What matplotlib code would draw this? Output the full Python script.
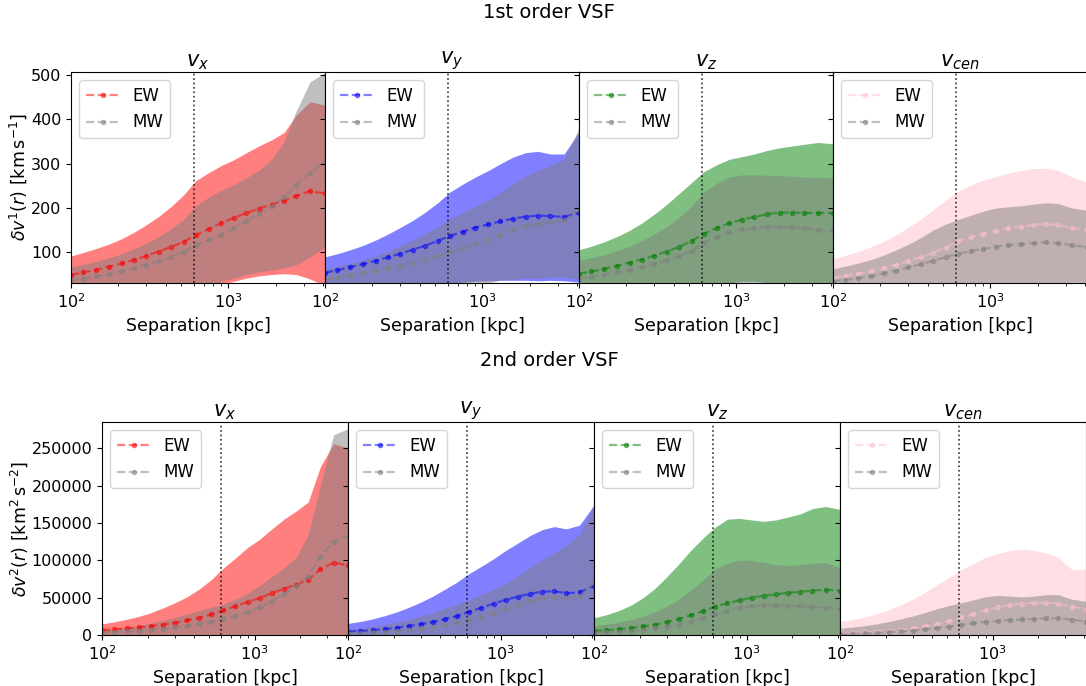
import matplotlib
matplotlib.use("Agg")
import matplotlib.pyplot as plt

# separation bins [kpc]
sep = [100, 120, 145, 175, 210, 250, 300, 360, 430, 520, 620, 750, 900,
       1080, 1300, 1560, 1880, 2250, 2700, 3300, 4100]

components = [r'$v_x$', r'$v_y$', r'$v_z$', r'$v_{cen}$']
ew_colors = ['red', 'blue', 'green', 'pink']
r_cut = 600

# ---- 1st order VSF (vx, vy, vz, vcen) ----
ew_mean1 = [
    [49, 55, 61, 68, 75, 83, 92, 102, 112, 124, 139, 153, 166, 178, 189, 199, 208, 217, 228, 238, 233],
    [54, 60, 67, 74, 81, 89, 97, 106, 115, 126, 137, 147, 156, 163, 170, 176, 181, 183, 182, 180, 190],
    [52, 57, 63, 70, 77, 84, 93, 102, 112, 126, 142, 155, 166, 174, 180, 186, 190, 190, 189, 189, 189],
    [43, 47, 52, 58, 65, 72, 80, 89, 99, 111, 125, 134, 142, 148, 154, 158, 162, 164, 162, 155, 151],
]
ew_hi1 = [
    [92, 100, 109, 119, 131, 145, 162, 181, 203, 230, 262, 280, 296, 309, 325, 340, 354, 370, 410, 440, 432],
    [90, 97, 106, 116, 128, 141, 156, 172, 190, 212, 236, 254, 270, 284, 300, 315, 325, 328, 322, 322, 372],
    [106, 114, 124, 136, 150, 166, 186, 208, 232, 258, 282, 298, 310, 316, 322, 330, 336, 340, 344, 348, 345],
    [86, 93, 102, 113, 125, 139, 156, 175, 196, 218, 238, 252, 263, 271, 279, 285, 289, 290, 285, 270, 258],
]
ew_lo1 = [
    [10, 11, 12, 13, 14, 15, 16, 17, 18, 20, 22, 25, 28, 35, 42, 47, 50, 52, 50, 40, 25],
    [10, 12, 14, 16, 18, 20, 22, 24, 26, 28, 31, 33, 35, 36, 37, 37, 37, 36, 37, 36, 33],
    [5, 6, 7, 8, 9, 10, 11, 12, 14, 17, 20, 25, 31, 35, 35, 32, 28, 25, 22, 20, 18],
    [5, 6, 7, 8, 9, 10, 11, 12, 13, 14, 15, 16, 17, 18, 19, 20, 22, 26, 30, 34, 36],
]
mw_mean1 = [
    [37, 41, 46, 52, 58, 64, 72, 80, 89, 101, 116, 128, 140, 155, 170, 186, 205, 224, 252, 280, 306],
    [39, 43, 48, 53, 58, 64, 70, 77, 84, 92, 100, 110, 120, 129, 140, 151, 160, 165, 168, 172, 196],
    [41, 45, 50, 55, 61, 67, 74, 82, 91, 103, 122, 135, 146, 152, 155, 157, 158, 157, 154, 151, 148],
    [35, 38, 42, 47, 53, 59, 66, 73, 81, 89, 97, 103, 108, 113, 116, 119, 121, 123, 121, 116, 112],
]
mw_hi1 = [
    [67, 73, 80, 88, 97, 108, 121, 136, 153, 175, 205, 225, 240, 253, 268, 285, 310, 350, 420, 485, 505],
    [62, 68, 75, 83, 92, 102, 114, 127, 142, 158, 175, 190, 204, 218, 235, 255, 272, 285, 296, 310, 380],
    [82, 88, 95, 104, 114, 126, 141, 158, 178, 205, 236, 256, 270, 275, 275, 274, 273, 272, 270, 270, 268],
    [63, 69, 76, 84, 94, 105, 118, 133, 150, 164, 174, 184, 193, 200, 203, 205, 209, 212, 210, 200, 195],
]
mw_lo1 = [
    [5, 6, 7, 8, 9, 10, 11, 12, 13, 15, 18, 22, 35, 42, 50, 56, 60, 65, 72, 90, 112],
    [5, 6, 7, 8, 9, 10, 11, 12, 14, 16, 19, 22, 26, 30, 38, 40, 42, 42, 44, 44, 40],
    [2, 3, 4, 5, 6, 7, 8, 9, 10, 12, 14, 18, 24, 30, 28, 24, 20, 18, 16, 14, 12],
    [2, 3, 4, 5, 6, 7, 8, 9, 10, 11, 12, 13, 14, 15, 16, 17, 18, 19, 20, 21, 22],
]

# ---- 2nd order VSF (vx, vy, vz, vcen) ----
ew_mean2 = [
    [6500, 7500, 8800, 10300, 12000, 14000, 16500, 19500, 23000, 27500, 33000, 38500, 44000, 49500, 56000, 62000, 67500, 74000, 88000, 97000, 93000],
    [4500, 5300, 6500, 8000, 9800, 12000, 14500, 17500, 21000, 25500, 31000, 36500, 42000, 47000, 51500, 55000, 58000, 58500, 56000, 57000, 66000],
    [5500, 6500, 7800, 9500, 11500, 14000, 17500, 21500, 26500, 32000, 38000, 42500, 46500, 50000, 52500, 54500, 56500, 58000, 59500, 60500, 59500],
    [2300, 2800, 3500, 4400, 5500, 7000, 9000, 11500, 14500, 18500, 23500, 28000, 33000, 37000, 40000, 42000, 43000, 43000, 42000, 38000, 34000],
]
ew_hi2 = [
    [15000, 17500, 21000, 25000, 30000, 36000, 43000, 51000, 61000, 74000, 89000, 103000, 117000, 128000, 142000, 155000, 166000, 178000, 225000, 256000, 250000],
    [15500, 18000, 21500, 26000, 31000, 37000, 44000, 52000, 61000, 71000, 82000, 92000, 102000, 113000, 123000, 133000, 141000, 145000, 142000, 147000, 174000],
    [23000, 27000, 32500, 40000, 50000, 62000, 78000, 95000, 113000, 130000, 144000, 155000, 156000, 154000, 152000, 154000, 158000, 162000, 169000, 172000, 168000],
    [18000, 20500, 24000, 28500, 34000, 40500, 48000, 57000, 67000, 77000, 87000, 96000, 104000, 109000, 113000, 115000, 113000, 110000, 104000, 88000, 88000],
]
mw_mean2 = [
    [3500, 4200, 5000, 6000, 7200, 8500, 10200, 12300, 14800, 17800, 21500, 25500, 30500, 37000, 45000, 55000, 66000, 78000, 105000, 125000, 132000],
    [2500, 3000, 3700, 4600, 5700, 7000, 8700, 10700, 13000, 16000, 20000, 24000, 29000, 34500, 40000, 45000, 49000, 51000, 50000, 52000, 70000],
    [3200, 3800, 4600, 5600, 7000, 8700, 11000, 14000, 18000, 22500, 27500, 32500, 36500, 38500, 39500, 39500, 39000, 38500, 37500, 36500, 35000],
    [1400, 1800, 2300, 3000, 3800, 4800, 6000, 7500, 9200, 11300, 13700, 15800, 17500, 19000, 20000, 20800, 21500, 22300, 22500, 20500, 18000],
]
mw_hi2 = [
    [7000, 8500, 10500, 13000, 16000, 19500, 23500, 28000, 32500, 37000, 41000, 48000, 56000, 66000, 78000, 90000, 104000, 135000, 200000, 268000, 276000],
    [8000, 9500, 11500, 14000, 17000, 20500, 25000, 30000, 35500, 41000, 47000, 54000, 61000, 69000, 79000, 90000, 101000, 110000, 120000, 135000, 172000],
    [12500, 14500, 17000, 20500, 25000, 31000, 38500, 48000, 60000, 74000, 88000, 96000, 100000, 100000, 97000, 94000, 93000, 94000, 96000, 97000, 90000],
    [9000, 10500, 12500, 15000, 18000, 21500, 25500, 30000, 35000, 39500, 43000, 47000, 51000, 53000, 52000, 51000, 52000, 54000, 54000, 48000, 45000],
]

plt.rcParams['xtick.labelsize'] = 11.5
plt.rcParams['ytick.labelsize'] = 11.5

W, H = 1086, 686
fig = plt.figure(figsize=(W / 100, H / 100), dpi=100)

rows = [
    # left px, panel width px, top px, bottom px
    dict(left=71, width=254, top=72, bottom=283,
         ew_mean=ew_mean1, ew_lo=ew_lo1, ew_hi=ew_hi1,
         mw_mean=mw_mean1, mw_lo=mw_lo1, mw_hi=mw_hi1,
         ylim=(31, 507), ylabel=r'$\delta v^1(r)$ [$\mathrm{km\,s^{-1}}$]'),
    dict(left=102, width=246, top=422, bottom=635,
         ew_mean=ew_mean2, ew_lo=None, ew_hi=ew_hi2,
         mw_mean=mw_mean2, mw_lo=None, mw_hi=mw_hi2,
         ylim=(0, 285000), ylabel=r'$\delta v^2(r)$ [$\mathrm{km^2\,s^{-2}}$]'),
]

for row in rows:
    first = None
    for i in range(4):
        l = (row['left'] + i * row['width']) / W
        b = 1 - row['bottom'] / H
        w = row['width'] / W
        h = (row['bottom'] - row['top']) / H
        ax = fig.add_axes([l, b, w, h], sharey=first)
        if first is None:
            first = ax
        c = ew_colors[i]
        ew_lo = row['ew_lo'][i] if row['ew_lo'] is not None else 0
        mw_lo = row['mw_lo'][i] if row['mw_lo'] is not None else 0
        ax.fill_between(sep, ew_lo, row['ew_hi'][i], color=c, alpha=0.5, lw=0)
        ax.fill_between(sep, mw_lo, row['mw_hi'][i], color='grey', alpha=0.5, lw=0)
        ax.plot(sep, row['ew_mean'][i], '--o', color=c, ms=3, lw=1.6, alpha=0.5, label='EW')
        ax.plot(sep, row['mw_mean'][i], '--o', color='grey', ms=3, lw=1.6, alpha=0.5, label='MW')
        ax.axvline(r_cut, color='k', ls=':', lw=1.2, alpha=0.8)
        ax.set_xscale('log')
        ax.set_xlim(100, 4100)
        ax.set_ylim(*row['ylim'])
        ax.set_title(components[i], fontsize=15, pad=4)
        ax.set_xlabel('Separation [kpc]', fontsize=12.5)
        ax.legend(loc='upper left', fontsize=12, handlelength=2.0)
        if i == 0:
            ax.set_ylabel(row['ylabel'], fontsize=12.5, labelpad=1)
        else:
            ax.tick_params(labelleft=False)

fig.text(549 / W, 1 - 18 / H, '1st order VSF', ha='center', va='baseline', fontsize=14)
fig.text(549 / W, 1 - 366 / H, '2nd order VSF', ha='center', va='baseline', fontsize=14)

fig.savefig('out.png', dpi=100)
